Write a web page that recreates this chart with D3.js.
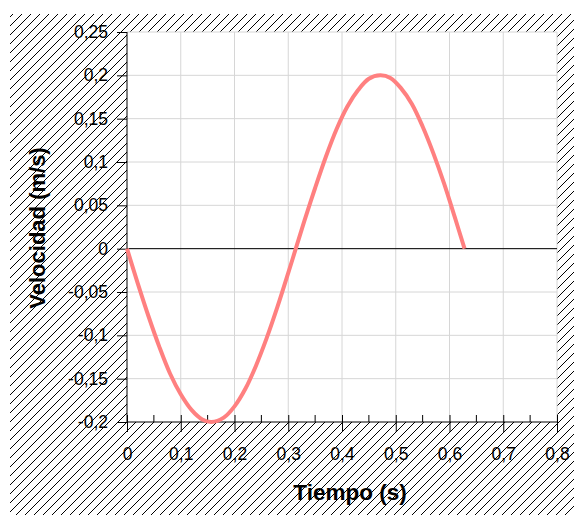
<!DOCTYPE html>
<html>
<head>
<meta charset="utf-8">
<script src="https://cdn.jsdelivr.net/npm/d3@7"></script>
<style>
html,body{margin:0;padding:0;background:#fff;}
svg{display:block;font-family:"Liberation Sans",Arial,sans-serif;}
</style>
</head>
<body>
<svg id="chart" width="574" height="515"></svg>
<script>
// Data
const tiempo = [0, 0.02, 0.04, 0.06, 0.08, 0.10, 0.12, 0.14, 0.157, 0.18, 0.20, 0.22, 0.24, 0.26, 0.28, 0.30, 0.314,
                0.33, 0.35, 0.37, 0.39, 0.41, 0.43, 0.45, 0.471, 0.49, 0.51, 0.53, 0.55, 0.57, 0.59, 0.61, 0.628];
const velocidad = [0, -0.040, -0.078, -0.113, -0.144, -0.168, -0.186, -0.197, -0.200, -0.195, -0.182, -0.162, -0.135, -0.103, -0.067, -0.028, 0,
                   0.032, 0.070, 0.106, 0.138, 0.164, 0.183, 0.196, 0.200, 0.197, 0.185, 0.167, 0.141, 0.110, 0.075, 0.036, 0];
const xTicks = [0, 0.1, 0.2, 0.3, 0.4, 0.5, 0.6, 0.7, 0.8];
const xMinorTicks = [0.05, 0.15, 0.25, 0.35, 0.45, 0.55, 0.65, 0.75];
const yTicks = [-0.2, -0.15, -0.1, -0.05, 0, 0.05, 0.1, 0.15, 0.2, 0.25];
const xTitle = "Tiempo (s)";
const yTitle = "Velocidad (m/s)";

const svg = d3.select("#chart");
const L = 127, R = 557, T = 32, B = 422;
const x = d3.scaleLinear().domain([0, 0.8]).range([L, R]);
const y = d3.scaleLinear().domain([-0.2, 0.25]).range([B, T]);
const fmt = d => String(+d.toFixed(2)).replace(".", ",");

// hatch pattern
const defs = svg.append("defs");
const S = 9;
const pat = defs.append("pattern").attr("id", "hatch").attr("patternUnits", "userSpaceOnUse")
  .attr("width", S).attr("height", S);
pat.append("path").attr("d", `M-2,2 L2,-2 M0,${S} L${S},0 M${S-2},${S+2} L${S+2},${S-2}`)
  .attr("stroke", "#000").attr("stroke-width", 1);
svg.append("rect").attr("x", 10).attr("y", 14).attr("width", 564).attr("height", 501).attr("fill", "url(#hatch)");

// plot area
svg.append("rect").attr("x", L).attr("y", T).attr("width", R - L).attr("height", B - T).attr("fill", "#fff");

// grid
const g = svg.append("g");
g.selectAll(".vg").data(xTicks.slice(1)).enter().append("line")
  .attr("x1", d => x(d)).attr("x2", d => x(d)).attr("y1", T).attr("y2", B)
  .attr("stroke", "#d6d6d6").attr("stroke-width", 1);
g.selectAll(".hg").data(yTicks.slice(1)).enter().append("line")
  .attr("x1", L).attr("x2", R).attr("y1", d => y(d)).attr("y2", d => y(d))
  .attr("stroke", "#d6d6d6").attr("stroke-width", 1);

// zero line
svg.append("line").attr("x1", L).attr("x2", R).attr("y1", y(0)).attr("y2", y(0))
  .attr("stroke", "#000").attr("stroke-width", 1);

// x axis
const xAxis = svg.append("g").attr("transform", `translate(0,${B})`)
  .call(d3.axisBottom(x).tickValues(xTicks).tickSize(10).tickFormat(fmt));
xAxis.select(".domain").attr("stroke", "#000").attr("d", `M${L},0H${R}`);
xAxis.selectAll(".tick line").attr("y1", -7).attr("stroke", "#000");
xAxis.selectAll(".tick text").attr("y", 26).attr("dy", "0.71em")
  .attr("font-size", 17.5).attr("fill", "#000").attr("font-family", "Liberation Sans, Arial, sans-serif");
xAxis.selectAll(".minor").data(xMinorTicks).enter().append("line")
  .attr("x1", d => x(d)).attr("x2", d => x(d)).attr("y1", -7).attr("y2", 0).attr("stroke", "#000");

// y axis
const yAxis = svg.append("g").attr("transform", `translate(${L},0)`)
  .call(d3.axisLeft(y).tickValues(yTicks).tickSize(10).tickFormat(fmt));
yAxis.select(".domain").attr("stroke", "#000").attr("d", `M0,${T}V${B}`);
yAxis.selectAll(".tick line").attr("stroke", "#000");
yAxis.selectAll(".tick text").attr("x", -19)
  .attr("font-size", 17.5).attr("fill", "#000").attr("font-family", "Liberation Sans, Arial, sans-serif");

// curve
const pts = tiempo.map((t, i) => [t, velocidad[i]]);
svg.append("path").datum(pts)
  .attr("d", d3.line().x(d => x(d[0])).y(d => y(d[1])).curve(d3.curveCatmullRom))
  .attr("fill", "none").attr("stroke", "#ff8080").attr("stroke-width", 4).attr("stroke-linecap", "butt");

// titles
svg.append("text").attr("x", 350).attr("y", 500).attr("text-anchor", "middle")
  .attr("font-size", 22.5).attr("font-weight", "bold").text(xTitle);
svg.append("text").attr("transform", "translate(45,228) rotate(-90)").attr("text-anchor", "middle")
  .attr("font-size", 22).attr("font-weight", "bold").text(yTitle);
</script>
</body>
</html>
